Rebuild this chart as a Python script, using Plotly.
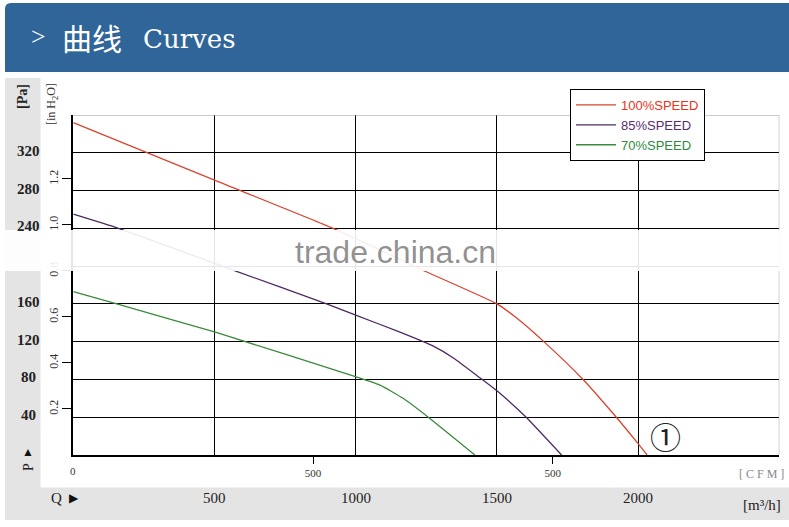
import plotly.graph_objects as go

W, H = 789, 527

# ---------------- data ----------------
q_100 = [0, 500, 920, 1250, 1500, 1570, 1670, 1805, 1920, 2000, 2032]
p_100 = [352, 291, 240, 194, 160, 145, 119, 80, 41, 12, 0]

q_85 = [0, 160, 573, 897, 1000, 1150, 1270, 1350, 1430, 1500, 1600, 1729]
p_85 = [255, 240, 195, 160, 148, 131, 116, 102, 84, 68, 41, 0]

q_70 = [0, 154, 503, 999, 1086, 1168, 1257, 1422]
p_70 = [173, 160, 130, 83, 74, 60, 40, 0]

series_names = ["100%SPEED", "85%SPEED", "70%SPEED"]
line_colors = ["#d9452e", "#4e2a63", "#3a8a3c"]
text_colors = ["#e8341c", "#5b2c6f", "#2e8b3c"]

pa_labels = [40, 80, 120, 160, 240, 280, 320]
pa_grid = [40, 80, 120, 160, 200, 240, 280, 320]
q_grid = [500, 1000, 1500, 2000]
q_labels = [500, 1000, 1500, 2000]
inh2o_ticks = [0.2, 0.4, 0.6, 0.8, 1.0, 1.2]
inh2o_text = ["0.2", "0.4", "0.6", "0.8", "1.0", "1.2"]
cfm_ticks = [500, 1000]
cfm_text = ["500", "500"]

Q_MAX, P_MAX = 2500, 360
CFM_MAX = 1472.5
INH2O_MAX = 1.478


def px(x):
    return x / W


def py(y):
    return 1 - y / H


SERIF = "Liberation Serif, DejaVu Serif, serif"
SANS = "Liberation Sans, Arial, sans-serif"

fig = go.Figure()
for q, p, n, lc, tc in zip([q_100, q_85, q_70], [p_100, p_85, p_70],
                           series_names, line_colors, text_colors):
    fig.add_trace(go.Scatter(
        x=q, y=p, mode="lines",
        line=dict(color=lc, width=1.3, shape="spline", smoothing=0.5),
        name=f"<span style='color:{tc}'>{n}</span>",
        hoverinfo="skip",
    ))

# invisible traces to activate secondary axes
fig.add_trace(go.Scatter(x=[0], y=[0], xaxis="x2", yaxis="y", mode="markers",
                         marker=dict(opacity=0), showlegend=False, hoverinfo="skip"))
fig.add_trace(go.Scatter(x=[0], y=[0], xaxis="x", yaxis="y2", mode="markers",
                         marker=dict(opacity=0), showlegend=False, hoverinfo="skip"))

x_dom = [px(73.3), px(779.3)]
y_dom = [py(455), py(115)]

fig.update_layout(
    width=W, height=H,
    margin=dict(l=0, r=0, t=0, b=0),
    paper_bgcolor="white",
    plot_bgcolor="rgba(0,0,0,0)",
    showlegend=True,
    legend=dict(
        x=px(570), y=py(89), xanchor="left", yanchor="top",
        bgcolor="white", bordercolor="black", borderwidth=1,
        font=dict(family=SANS, size=13),
        itemwidth=40, tracegroupgap=0,
    ),
    xaxis=dict(
        domain=x_dom, range=[0, Q_MAX], anchor="y",
        tickvals=q_grid, showticklabels=False, ticks="",
        showgrid=True, gridcolor="black", gridwidth=1,
        showline=True, linecolor="black", linewidth=1.5,
        zeroline=False, fixedrange=True,
    ),
    yaxis=dict(
        domain=y_dom, range=[0, P_MAX], anchor="x",
        tickvals=pa_grid, showticklabels=False, ticks="",
        showgrid=True, gridcolor="black", gridwidth=1,
        showline=True, linecolor="black", linewidth=1.5,
        zeroline=False, fixedrange=True,
    ),
    xaxis2=dict(
        overlaying="x", side="bottom", anchor="y", range=[0, CFM_MAX],
        tickvals=cfm_ticks, ticktext=cfm_text, ticks="outside", ticklen=8,
        tickcolor="black", tickwidth=1,
        tickfont=dict(family=SERIF, size=11, color="#333"),
        showgrid=False, showline=False, zeroline=False, fixedrange=True,
    ),
    yaxis2=dict(
        overlaying="y", side="left", anchor="x", range=[0, INH2O_MAX],
        tickvals=inh2o_ticks, ticktext=inh2o_text, ticks="outside", ticklen=10,
        tickcolor="black", tickwidth=1, tickangle=-90,
        tickfont=dict(family=SERIF, size=12, color="#333"),
        showgrid=False, showline=False, zeroline=False, fixedrange=True,
    ),
)

shapes = []
# header bar with rounded top-left corner
x0, x1, y0, y1, r = px(5), px(789), py(72), py(3), 6
shapes.append(dict(
    type="path", xref="paper", yref="paper",
    path=(f"M {x0} {y0} L {x0} {py(3 + r)} Q {x0} {y1} {px(5 + r)} {y1} "
          f"L {x1} {y1} L {x1} {y0} Z"),
    fillcolor="#2f6598", line=dict(width=0), layer="below"))
# grey left panel and bottom band
shapes.append(dict(type="rect", xref="paper", yref="paper",
                   x0=px(5), x1=px(40.5), y0=py(520), y1=py(78),
                   fillcolor="#e4e4e4", line=dict(width=0), layer="below"))
shapes.append(dict(type="rect", xref="paper", yref="paper",
                   x0=px(5), x1=px(789), y0=py(520), y1=py(487.5),
                   fillcolor="#e4e4e4", line=dict(width=0), layer="below"))
# grey top / right border of plot
shapes.append(dict(type="line", xref="x", yref="y", x0=0, x1=Q_MAX, y0=P_MAX, y1=P_MAX,
                   line=dict(color="#9a9a9a", width=1)))
shapes.append(dict(type="line", xref="x", yref="y", x0=Q_MAX, x1=Q_MAX, y0=0, y1=P_MAX,
                   line=dict(color="#9a9a9a", width=1)))
# watermark band
shapes.append(dict(type="rect", xref="paper", yref="paper",
                   x0=0, x1=1, y0=py(271), y1=py(230),
                   fillcolor="rgba(255,255,255,0.9)", line=dict(width=0), layer="above"))
fig.update_layout(shapes=shapes)

ann = []


def add(text, x, y, xref="paper", yref="paper", **kw):
    d = dict(text=text, x=x, y=y, xref=xref, yref=yref, showarrow=False,
             xanchor="center", yanchor="middle")
    d.update(kw)
    ann.append(d)


# header text
add(">", px(38), py(37), font=dict(family=SERIF, size=26, color="white"))
add("曲线", px(92), py(37), font=dict(family="Noto Sans CJK SC", size=30, color="white"))
add("Curves", px(189), py(39), font=dict(family="DejaVu Serif", size=26, color="white"))
# Pa labels
for v in pa_labels:
    add("<b>%d</b>" % v, px(28.5), v, yref="y", yshift=2,
        font=dict(family=SERIF, size=15, color="#222"))
add("<b>[Pa]</b>", px(22), py(97), textangle=-90,
    font=dict(family=SERIF, size=14, color="#222"))
add("[in H<sub>2</sub>O]", px(52), py(104), textangle=-90,
    font=dict(family=SERIF, size=12, color="#333"))
add("▲", px(28), py(452), font=dict(family=SANS, size=12, color="#111"))
add("P", px(28), py(467), textangle=-90, font=dict(family=SERIF, size=14, color="#222"))
# bottom band
add("Q", px(57), py(498), font=dict(family=SERIF, size=15, color="#222"))
add("▶", px(74), py(498), font=dict(family=SANS, size=12, color="#111"))
for v in q_labels:
    add(str(v), v, py(498), xref="x", font=dict(family=SERIF, size=15, color="#222"))
add("[m³/h]", px(762), py(505), font=dict(family=SERIF, size=15, color="#222"))
add("[ C F M ]", px(761), py(474), font=dict(family=SERIF, size=12, color="#888"))
add("0", 0, py(471), xref="x", font=dict(family=SERIF, size=11, color="#333"))
add("①", px(665), py(435), font=dict(family="Noto Sans CJK SC", size=31, color="#222"))
# watermark text
add("trade.china.cn", px(395), py(252),
    font=dict(family=SANS, size=32, color="rgba(125,125,125,0.85)"))
fig.update_layout(annotations=ann)

fig.write_html("out.html", config={"displayModeBar": False},
               post_script="document.body.style.margin='0';document.body.style.overflow='hidden';")
